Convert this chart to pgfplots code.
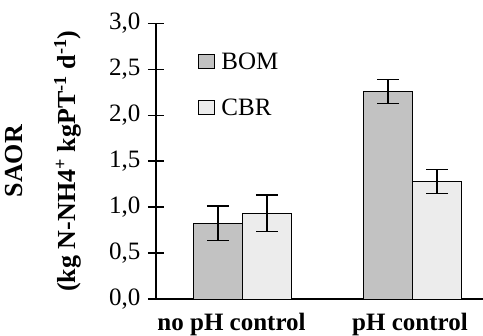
\documentclass[border=0pt]{standalone}
\usepackage{fontspec}
\setmainfont{Liberation Serif}
\usepackage{pgfplots}
\pgfplotsset{compat=1.18}
\definecolor{bomfill}{RGB}{194,194,194}
\definecolor{cbrfill}{RGB}{236,236,236}
\begin{document}
\begin{tikzpicture}
\useasboundingbox (0,0) rectangle (483pt,336pt);
\begin{axis}[
  at={(156pt,37pt)}, anchor=south west,
  scale only axis,
  width=327pt, height=275.7pt,
  xmin=0.4935, xmax=2.4126,
  ymin=0, ymax=3,
  axis x line=bottom, axis y line=left,
  axis line style={line width=1.3pt, -},
  ybar=0pt, bar width=0.2876,
  ytick={0,0.5,...,3.0},
  xtick={0.937,1.984},
  xticklabels={no pH control, pH control},
  major x tick style={draw=none},
  major tick length=16pt,
  tick align=center,
  y tick style={line width=1.3pt, black},
  yticklabel style={font=\fontsize{25}{30}\selectfont, xshift=-4pt},
  xticklabel style={font=\bfseries\fontsize{25}{30}\selectfont, anchor=base, yshift=-24pt},
  /pgf/number format/.cd, use comma, fixed, fixed zerofill, precision=1, assume math mode=true,
  /pgfplots/.cd,
  ylabel={SAOR\\[23pt](kg N-NH4\textsuperscript{+} kgPT\textsuperscript{-1} d\textsuperscript{-1})},
  ylabel style={at={(axis description cs:-0.3457,0.5)}, anchor=center, align=center,
    font=\bfseries\fontsize{26}{30}\selectfont},
  legend style={at={(axis description cs:0.119,0.905)}, anchor=north west,
    draw=none, fill=none, font=\fontsize{25}{30}\selectfont,
    row sep=26pt, cells={anchor=west},
    nodes={inner sep=1pt}},
  legend image code/.code={\path[draw=none,fill=none] (0pt,-1pt) rectangle (22pt,1pt);
    \draw[#1, line width=0.6pt] (0pt,-7pt) rectangle (16pt,7pt);},
]
\addplot[draw=black, line width=0.8pt, fill=bomfill,
  error bars/.cd, y dir=both, y explicit,
  error bar style={line width=1.5pt, black},
  error mark options={rotate=90, mark size=11pt, line width=1.5pt, black}]
  coordinates {(1,0.823) +- (0,0.187) (2,2.257) +- (0,0.130)};
\addplot[draw=black, line width=0.8pt, fill=cbrfill,
  error bars/.cd, y dir=both, y explicit,
  error bar style={line width=1.5pt, black},
  error mark options={rotate=90, mark size=11pt, line width=1.5pt, black}]
  coordinates {(1,0.933) +- (0,0.196) (2,1.278) +- (0,0.131)};
\legend{BOM, CBR}
\end{axis}
\end{tikzpicture}
\end{document}
